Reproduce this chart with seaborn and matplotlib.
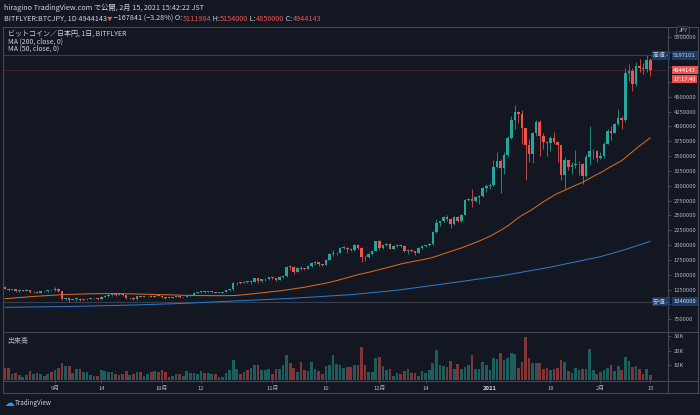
import numpy as np
import pandas as pd
import seaborn as sns
import matplotlib.pyplot as plt
from matplotlib import transforms

BG = '#131722'
TXT = '#d1d4dc'
AXT = '#b2b5be'
LINE = '#3a3e4a'
UP = '#26a69a'
DOWN = '#ef5350'
VUP = '#1c5e5e'
VDOWN = '#813539'
LABEL_BLUE = '#1c3c68'

# daily candles of BITFLYER:BTCJPY, values in thousand yen
start = '2020-08-18'
first_open = 1300
closes = [
    1268, 1245, 1257, 1222, 1238, 1235, 1248, 1202, 1216, 1200, 1223, 1219, 1241, 1238,
    1269, 1225, 1087, 1113, 1078, 1090, 1099, 1074, 1084, 1097, 1102, 1107, 1095, 1132, 1144,
    1161, 1161, 1159, 1174, 1158, 1104, 1116, 1085, 1138, 1133, 1137, 1142, 1133, 1149, 1143,
    1121, 1116, 1114, 1127, 1139, 1119, 1127, 1154, 1167, 1193, 1202, 1220, 1207, 1207, 1214,
    1195, 1200, 1214, 1241, 1259, 1354, 1370, 1365, 1386, 1376, 1380, 1441, 1402, 1421, 1432, 1457,
    1439, 1417, 1468, 1481, 1631, 1630, 1551, 1619, 1603, 1600, 1642, 1703, 1708, 1681, 1670,
    1750, 1847, 1862, 1864, 1954, 1958, 1927, 1922, 2003, 1958, 1794, 1793, 1853, 1902, 2061,
    1951, 1995, 2019, 1941, 1988, 2010, 1990, 1902, 1925, 1894, 1873, 1951, 1990, 2000, 2018,
    2216, 2367, 2401, 2477, 2437, 2360, 2473, 2413, 2510, 2755, 2780, 2735, 2805, 2820, 2957, 2995,
    3012, 3320, 3420, 3300, 3520, 3800, 4100, 4240, 4200, 3980, 3690, 3530, 3880, 4080, 3830,
    3740, 3720, 3800, 3740, 3690, 3180, 3430, 3320, 3350, 3360, 3370, 3160, 3490, 3580, 3585, 3460,
    3495, 3710, 3930, 3895, 4040, 4140, 4110, 4900, 4930, 4710, 5020, 4985, 4965, 5111.984, 4944.143,
]
highs = [
    1310, 1275, 1262, 1262, 1245, 1245, 1256, 1252, 1224, 1232, 1230, 1228, 1245, 1250,
    1290, 1272, 1235, 1125, 1118, 1098, 1105, 1110, 1095, 1110, 1108, 1112, 1112, 1145, 1158,
    1168, 1170, 1168, 1180, 1176, 1162, 1120, 1120, 1142, 1145, 1143, 1148, 1152, 1155, 1152,
    1158, 1125, 1120, 1130, 1142, 1142, 1130, 1160, 1175, 1205, 1210, 1232, 1225, 1218, 1222,
    1218, 1205, 1218, 1248, 1268, 1380, 1385, 1378, 1392, 1395, 1395, 1452, 1450, 1432, 1440, 1468,
    1460, 1450, 1472, 1500, 1650, 1665, 1640, 1635, 1650, 1620, 1658, 1720, 1730, 1712, 1690,
    1765, 1860, 1920, 1880, 1965, 1985, 1965, 1955, 2020, 2015, 1965, 1830, 1880, 1910, 2075,
    2090, 2002, 2032, 2030, 1995, 2018, 2015, 2000, 1940, 1935, 1900, 1960, 2000, 2010, 2035,
    2240, 2440, 2410, 2490, 2500, 2460, 2485, 2490, 2520, 2770, 2800, 2945, 2830, 2840, 2975, 3030,
    3050, 3430, 3570, 3450, 3560, 3830, 4180, 4360, 4260, 4270, 3980, 3780, 3900, 4110, 4100,
    3880, 3760, 3830, 3900, 3760, 3690, 3480, 3440, 3400, 3600, 3420, 3380, 3530, 4000, 3620, 3600,
    3560, 3730, 3960, 4010, 4050, 4290, 4170, 4990, 5050, 4980, 5080, 5140, 5060, 5197.101, 5154,
]
lows = [
    1255, 1230, 1238, 1215, 1210, 1225, 1228, 1190, 1198, 1185, 1195, 1210, 1215, 1228,
    1232, 1205, 1080, 1070, 1046, 1068, 1060, 1055, 1068, 1078, 1088, 1095, 1080, 1088, 1125,
    1130, 1140, 1148, 1155, 1148, 1095, 1098, 1078, 1080, 1118, 1128, 1122, 1126, 1128, 1136,
    1112, 1100, 1108, 1110, 1122, 1112, 1115, 1120, 1150, 1162, 1188, 1192, 1198, 1195, 1192,
    1185, 1192, 1196, 1208, 1235, 1252, 1330, 1345, 1360, 1365, 1352, 1375, 1370, 1380, 1395, 1420,
    1430, 1400, 1405, 1440, 1465, 1585, 1520, 1545, 1580, 1585, 1595, 1630, 1660, 1645, 1650,
    1660, 1745, 1810, 1825, 1860, 1940, 1860, 1895, 1900, 1940, 1720, 1740, 1775, 1835, 1900,
    1920, 1935, 1980, 1930, 1935, 1975, 1975, 1890, 1850, 1880, 1830, 1870, 1940, 1975, 1985,
    2010, 2210, 2320, 2390, 2410, 2290, 2335, 2390, 2395, 2500, 2740, 2650, 2720, 2700, 2805, 2900,
    2950, 3000, 3300, 2880, 3200, 3480, 3790, 3950, 4050, 3700, 3100, 3400, 3390, 3840, 3500,
    3620, 3500, 3580, 3700, 3400, 3100, 2950, 3270, 3200, 3300, 3180, 3030, 3150, 3350, 3450, 3400,
    3450, 3460, 3700, 3770, 3880, 4030, 3950, 4080, 4770, 4600, 4680, 4920, 4880, 4920, 4850,
]
# volume in thousand BTC
volumes_k = [
    8.5, 8.5, 4.1, 4.6, 3.4, 2.3, 3.4, 6.2, 4.1, 4.6, 4.1, 2.9, 4.1, 5.7, 6.9, 8.0, 11.5, 9.2, 9.2, 4.6,
    7.6, 7.6, 5.4, 5.6, 3.4, 2.9, 2.9, 6.9, 6.2, 5.7, 5.6, 4.1, 3.4, 4.1, 6.2, 3.4, 4.1, 5.7, 5.4, 2.9,
    4.1, 5.7, 6.2, 5.7, 6.9, 5.7, 1.9, 2.9, 4.1, 4.1, 2.9, 6.2, 4.6, 4.6, 3.8, 6.2, 4.6, 4.6, 4.1, 4.1,
    2.3, 2.3, 4.6, 6.9, 13.8, 7.6, 4.1, 5.7, 6.9, 8.5, 9.9, 10.3, 6.9, 6.9, 7.6, 4.1, 7.6, 7.6, 10.3, 17.2,
    11.5, 8.5, 5.7, 12.6, 6.9, 6.2, 12.2, 7.6, 6.2, 4.1, 9.2, 10.3, 17.2, 11.1, 10.3, 8.5, 9.0,
    8.8, 10.0, 10.5, 22.8, 10.5, 5.3, 5.3, 15.1, 15.8, 9.3, 6.5, 7.2, 3.0, 4.7, 4.2, 6.0, 7.4, 4.7, 5.1, 3.0,
    5.8, 4.7, 6.5, 11.9, 20.5, 10.5, 9.5, 8.8, 12.8, 7.2, 10.7, 7.2, 8.8, 10.5, 16.7, 7.2, 7.2, 12.1, 10.5, 7.0,
    14.9, 14.2, 18.1, 13.5, 14.7, 18.1, 17.7, 7.9, 12.3, 29.3, 15.3, 11.6, 11.6, 11.6, 7.2, 8.4, 7.0, 7.7, 8.4, 13.5,
    12.6, 5.8, 5.1, 8.4, 6.5, 7.7, 7.4, 20.9, 6.5, 4.2, 5.3, 6.5, 8.4, 10.2, 5.8, 9.8, 7.0, 15.8, 13.0, 8.8,
    9.8, 7.2, 4.2, 7.2, 3.7,
]
ma50_early_day = [0, 8, 16, 24, 31, 40]
ma50_early = [1097, 1135, 1165, 1180, 1185, 1172]
ma200_day = [0, 20, 36, 50, 64, 80, 97, 110, 126, 140, 153, 167, 174, 181]
ma200_vals = [952, 968, 991, 1018, 1058, 1102, 1165, 1240, 1370, 1490, 1630, 1805, 1925, 2064]

tick_dates = ['2020-09-01', '2020-09-14', '2020-10-01', '2020-10-12', '2020-11-01', '2020-11-16',
              '2020-12-01', '2020-12-14', '2021-01-01', '2021-01-18', '2021-02-01', '2021-02-15']
tick_text = ['9月', '14', '10月', '12', '11月', '16', '12月', '14', '2021', '18', '2月', '15']
price_ticks = list(range(750000, 5500001, 250000))
hidden_ticks = [5250000, 5000000, 4750000, 1000000]  # covered by the price labels
vol_ticks = [10000, 20000, 30000]
vol_text = ['10K', '20K', '30K']

df = pd.DataFrame({
    'close': np.array(closes) * 1000,
    'high': np.array(highs) * 1000,
    'low': np.array(lows) * 1000,
    'volume': np.array(volumes_k) * 1000,
})
df['open'] = np.r_[first_open, closes[:-1]] * 1000
df['day'] = np.arange(len(df))
df['dir'] = np.where(df['close'] >= df['open'], 'up', 'down')
roll = df['close'].rolling(50).mean()
ma50 = pd.concat([
    pd.DataFrame({'day': ma50_early_day, 'ma': np.array(ma50_early) * 1000}),
    pd.DataFrame({'day': df['day'][49:], 'ma': roll[49:]}),
])
ma200 = pd.DataFrame({'day': ma200_day, 'ma': np.array(ma200_vals) * 1000})
t0 = pd.Timestamp(start)
tick_pos = [(pd.Timestamp(d) - t0).days for d in tick_dates]

sns.set_style('dark')
plt.rcParams['font.family'] = ['Noto Sans CJK JP', 'DejaVu Sans']

W, H = 700, 415
fig = plt.figure(figsize=(7, 4.15), dpi=100, facecolor=BG)


def box(x0, y0, x1, y1):
    return [x0 / W, 1 - y1 / H, (x1 - x0) / W, (y1 - y0) / H]


ov = fig.add_axes([0, 0, 1, 1])
ov.set_xlim(0, W)
ov.set_ylim(H, 0)
ov.axis('off')

ax = fig.add_axes(box(3, 28, 668, 331))
vax = fig.add_axes(box(3, 332, 668, 380))
for a in (ax, vax):
    a.set_facecolor('none')
    for s in a.spines.values():
        s.set_visible(False)
    a.grid(False)

xlim = (-0.56, 185.97)

# candles
cols = np.where(df['dir'] == 'up', UP, DOWN)
ax.vlines(df['day'], df['low'], df['high'], colors=cols, lw=0.55, zorder=2)
body_lo = np.minimum(df['open'], df['close'])
body_h = np.maximum((df['close'] - df['open']).abs(), 12000)
ax.bar(df['day'], body_h, bottom=body_lo, width=0.72, color=cols, lw=0, zorder=3)

sns.lineplot(data=ma200, x='day', y='ma', ax=ax, color='#2a78c8', lw=0.75, zorder=1)
sns.lineplot(data=ma50, x='day', y='ma', ax=ax, color='#d9691e', lw=0.75, zorder=1)

high_price = int(round(df['high'].max()))
low_price = int(round(df['low'].min()))
last = df.iloc[-1]
prev = df.iloc[-2]
last_price = int(round(last['close']))
ax.axhline(high_price, color=LINE, lw=0.8, zorder=0)
ax.axhline(low_price, color=LINE, lw=0.8, zorder=0)
ax.axhline(last_price, color='#6a2c33', lw=0.8, ls=(0, (1.2, 1.2)), zorder=0)

ax.set_xlim(*xlim)
ax.set_ylim(553200, 5656640)
ax.set_xticks([])
ax.yaxis.tick_right()
ax.set_yticks(price_ticks)
ax.set_yticklabels(['' if p in hidden_ticks else str(p) for p in price_ticks])
ax.tick_params(axis='y', right=True, left=False, length=2.5, width=0.6, color='#50535e',
               pad=1.5, labelsize=4.2, labelcolor=AXT)
ax.set_xlabel('')
ax.set_ylabel('')

yt = ax.get_yaxis_transform()
lab = dict(fontsize=4.2, va='center', ha='left', clip_on=False, zorder=10)
ax.text(1.008, high_price, str(high_price), transform=yt, color=TXT,
        bbox=dict(boxstyle='square,pad=0.3', fc=LABEL_BLUE, ec='none'), **lab)
ax.text(0.978, high_price, '高値 -', transform=yt, color=TXT,
        bbox=dict(boxstyle='square,pad=0.3', fc=LABEL_BLUE, ec='none'), **lab)
ax.text(1.008, low_price, str(low_price), transform=yt, color=TXT,
        bbox=dict(boxstyle='square,pad=0.3', fc=LABEL_BLUE, ec='none'), **lab)
ax.text(0.978, low_price, '安値 -', transform=yt, color=TXT,
        bbox=dict(boxstyle='square,pad=0.3', fc=LABEL_BLUE, ec='none'), **lab)
ax.text(1.008, last_price, str(last_price), transform=yt, color='white',
        bbox=dict(boxstyle='square,pad=0.25', fc=DOWN, ec='none'), **lab)
ax.text(1.008, last_price, '17:17:40',
        transform=transforms.offset_copy(yt, fig=fig, y=-9, units='dots'), color='white',
        bbox=dict(boxstyle='square,pad=0.25', fc=DOWN, ec='none'), **lab)

# volume
sns.barplot(data=df, x='day', y='volume', hue='dir', palette={'up': VUP, 'down': VDOWN},
            native_scale=True, dodge=False, legend=False, width=0.75, saturation=1,
            linewidth=0, ax=vax)
vax.set_xlim(*xlim)
vax.set_ylim(0, 32700)
vax.yaxis.tick_right()
vax.set_yticks(vol_ticks)
vax.set_yticklabels(vol_text)
vax.set_xticks(tick_pos)
vax.set_xticklabels(tick_text)
vax.tick_params(axis='y', right=True, left=False, length=2.5, width=0.6, color='#50535e',
                pad=1.5, labelsize=4.2, labelcolor=AXT)
vax.tick_params(axis='x', bottom=True, length=2, width=0.6, color='#50535e', pad=2.5,
                labelsize=4.2, labelcolor=AXT)
for t in vax.get_xticklabels():
    if t.get_text() == '2021':
        t.set_fontweight('bold')
        t.set_color(TXT)
vax.set_xlabel('')
vax.set_ylabel('')

# frame
fr = dict(color='#444854', lw=0.8)
ov.plot([2.5, 697.5, 697.5, 2.5, 2.5], [27.5, 27.5, 392.5, 392.5, 27.5], **fr)
ov.plot([2.5, 697.5], [331.5, 331.5], **fr)
ov.plot([2.5, 697.5], [380.5, 380.5], **fr)
ov.plot([668, 668], [27.5, 392.5], **fr)
ov.text(683, 31, 'JPY', fontsize=4, color=AXT, ha='center', va='center',
        bbox=dict(boxstyle='round,pad=0.3', fc=BG, ec='#50535e', lw=0.6))

# header
ov.text(4, 8, 'hiragino TradingView.com で公開, 2月 15, 2021 15:42:22 JST',
        fontsize=5.2, color=TXT, va='center', ha='left')
chg = last_price - int(round(prev['close']))
pct = chg / prev['close'] * 100
pieces = [
    ('BITFLYER:BTCJPY, 1D %d' % last_price, TXT, 5.2),
    ('▼', DOWN, 4.0),
    (' \u2212%d (\u2212%.2f%%) O:' % (-chg, -pct), TXT, 5.2),
    ('%d' % round(last['open']), DOWN, 5.2),
    (' H:', TXT, 5.2),
    ('%d' % round(last['high']), DOWN, 5.2),
    (' L:', TXT, 5.2),
    ('%d' % round(last['low']), DOWN, 5.2),
    (' C:', TXT, 5.2),
    ('%d' % last_price, DOWN, 5.2),
]
r = fig.canvas.get_renderer()
x = 4
for s, c, fs in pieces:
    t = ov.text(x, 19, s, fontsize=fs, color=c, va='center', ha='left')
    x += t.get_window_extent(renderer=r).width

ov.text(8, 33.5, 'ビットコイン／日本円, 1日, BITFLYER', fontsize=5, color=TXT, va='center')
ov.text(8, 41.5, 'MA (200, close, 0)', fontsize=5, color=TXT, va='center')
ov.text(8, 48.5, 'MA (50, close, 0)', fontsize=5, color=TXT, va='center')
ov.text(7, 341, '出来高', fontsize=5, color=AXT, va='center')

# footer logo
ov.text(4, 403, '\u2601', fontsize=7, color='#2196f3', va='center', family='DejaVu Sans')
ov.text(15, 403, 'TradingView', fontsize=4.5, color=TXT, va='center')

fig.savefig('out.png', dpi=100, facecolor=BG)
